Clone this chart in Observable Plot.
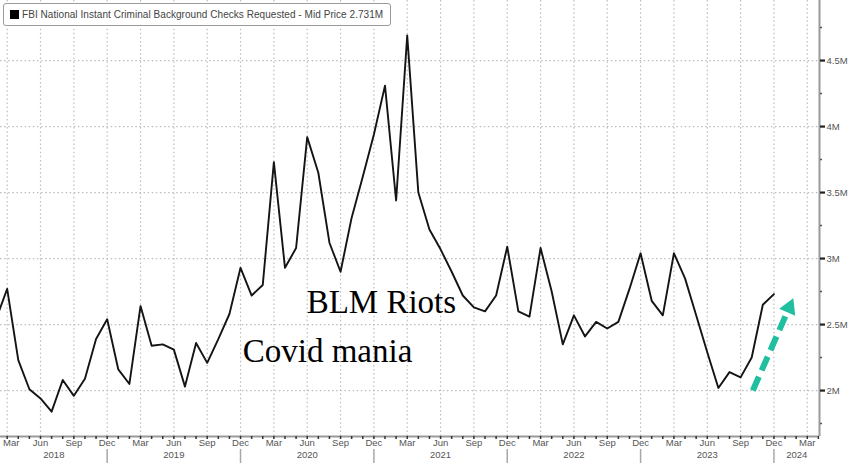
<!DOCTYPE html>
<html><head><meta charset="utf-8">
<script src="https://cdn.jsdelivr.net/npm/d3@7"></script>
<script src="https://cdn.jsdelivr.net/npm/@observablehq/plot@0.6"></script>
<style>
body{margin:0;background:#fff;}
#wrap{position:relative;width:848px;height:463px;overflow:hidden;}
#legend{position:absolute;left:3px;top:3px;width:386px;height:21px;border:1px solid #9a9a9a;border-radius:3px;background:#fff;font-family:"Liberation Sans",sans-serif;font-size:10px;letter-spacing:0.05px;color:#444;white-space:nowrap;}
#legend .sw{position:absolute;left:6px;top:6px;width:9px;height:9px;background:#000;}
#legend .tx{position:absolute;left:18px;top:4.5px;line-height:12px;}
</style></head><body>
<div id="wrap"><div id="chart"></div><div id="legend"><span class="sw"></span><span class="tx" id="legtext"></span></div></div>
<script>
const seriesName = "FBI National Instant Criminal Background Checks Requested - Mid Price 2.731M";
const months = [
 "2018-02","2018-03","2018-04","2018-05","2018-06","2018-07","2018-08","2018-09","2018-10","2018-11","2018-12",
 "2019-01","2019-02","2019-03","2019-04","2019-05","2019-06","2019-07","2019-08","2019-09","2019-10","2019-11","2019-12",
 "2020-01","2020-02","2020-03","2020-04","2020-05","2020-06","2020-07","2020-08","2020-09","2020-10","2020-11","2020-12",
 "2021-01","2021-02","2021-03","2021-04","2021-05","2021-06","2021-07","2021-08","2021-09","2021-10","2021-11","2021-12",
 "2022-01","2022-02","2022-03","2022-04","2022-05","2022-06","2022-07","2022-08","2022-09","2022-10","2022-11","2022-12",
 "2023-01","2023-02","2023-03","2023-04","2023-05","2023-06","2023-07","2023-08","2023-09","2023-10","2023-11","2023-12"
];
// millions of checks
const values = [
 2.54,2.77,2.23,2.01,1.94,1.84,2.08,1.96,2.09,2.39,2.54,
 2.16,2.05,2.64,2.34,2.35,2.31,2.03,2.36,2.21,2.39,2.58,2.93,
 2.72,2.80,3.73,2.93,3.08,3.92,3.65,3.12,2.90,3.31,3.62,3.94,
 4.31,3.44,4.69,3.50,3.22,3.07,2.90,2.72,2.63,2.60,2.72,3.09,
 2.60,2.56,3.08,2.75,2.35,2.57,2.41,2.52,2.47,2.52,2.77,3.04,
 2.68,2.57,3.04,2.85,2.57,2.29,2.02,2.14,2.10,2.25,2.65,2.731
];
const monthNames = ["Jan","Feb","Mar","Apr","May","Jun","Jul","Aug","Sep","Oct","Nov","Dec"];
const years = [2018,2019,2020,2021,2022,2023,2024];
const yTickValues = [2,2.5,3,3.5,4,4.5];
const yTickLabels = ["2M","2.5M","3M","3.5M","4M","4.5M"];
const yMinorValues = [1.75,2.25,2.75,3.25,3.75,4.25,4.75];
// annotations (month, value)
const notes = [
 {month:"2020-06", shift:-0.05, v:2.584, text:"BLM Riots"},
 {month:"2019-12", shift:0.2, v:2.22, text:"Covid mania"}
];
const arrowFrom = {month:"2023-10", shift:0.1, v:2.0};
const arrowTo = {month:"2024-01", shift:0.72, v:2.695};

document.getElementById("legtext").textContent = seriesName;

const idx = (s, shift=0) => { const [y,m] = s.split("-").map(Number); return (y-2018)*12 + (m-1) + shift; };
const data = months.map((m,i)=>({x: idx(m), v: values[i]}));
const X0 = 1.4, X1 = 75.1, Y0 = 1.652, Y1 = 4.955;

const monthTicks = d3.range(2, 76);
const quarterTicks = monthTicks.filter(i => i % 3 === 2);
const yearSeps = years.slice(0,-1).map(y => (y-2018)*12 + 11);
const yearLabels = years.map(y => {
  const a = Math.max(X0, (y-2018)*12 - 1), b = Math.min(X1, (y-2018)*12 + 11);
  return {x:(a+b)/2, t:String(y)};
});
const qLabels = quarterTicks.map(i => ({x:i, t:monthNames[i%12]}));

const a0 = {x: idx(arrowFrom.month, arrowFrom.shift), v: arrowFrom.v};
const a1 = {x: idx(arrowTo.month, arrowTo.shift), v: arrowTo.v};
const lerp = (t) => ({x: a0.x + (a1.x-a0.x)*t, v: a0.v + (a1.v-a0.v)*t});
const shaftEnd = lerp(0.86);
const headPos = lerp(0.905);

const font = "Liberation Sans, Arial, sans-serif";
const chart = Plot.plot({
  width: 848, height: 463,
  marginLeft: 0, marginRight: 29, marginTop: 0, marginBottom: 27,
  style: {fontFamily: font, background: "#fff", color: "#555"},
  x: {domain: [X0, X1], axis: null},
  y: {domain: [Y0, Y1], axis: null},
  marks: [
    Plot.ruleY(yTickValues, {stroke: "#bdbdbd", strokeWidth: 1.2, strokeDasharray: "1.5,2.6"}),
    Plot.ruleX(quarterTicks, {stroke: "#bdbdbd", strokeWidth: 1.2, strokeDasharray: "1.5,2.6"}),
    Plot.line(data, {x: "x", y: "v", stroke: "#141414", strokeWidth: 1.9, clip: true}),
    Plot.ruleY([Y0], {stroke: "#9a9a9a", strokeWidth: 2}),
    Plot.ruleX([X1], {stroke: "#9a9a9a", strokeWidth: 2}),
    Plot.axisX({ticks: monthTicks, tickSize: 3, tickFormat: () => "", stroke: "#333", strokeWidth: 1.5, label: null}),
    Plot.text(qLabels.slice(1), {x: "x", text: "t", frameAnchor: "bottom", dy: 9, fontSize: 9.5, fill: "#555"}),
    Plot.text(qLabels.slice(0,1), {x: "x", text: "t", frameAnchor: "bottom", dy: 9, dx: 4, fontSize: 9.5, fill: "#555"}),
    Plot.text(yearLabels, {x: "x", text: "t", frameAnchor: "bottom", dy: 21, fontSize: 9.5, fill: "#555"}),
    Plot.ruleX(yearSeps, {stroke: "#a8a8a8", strokeWidth: 1.5, insetTop: 449, insetBottom: -27}),
    Plot.axisY({anchor: "right", ticks: yTickValues, tickSize: 5, tickPadding: 2, tickFormat: (d) => yTickLabels[yTickValues.indexOf(d)], fontSize: 9.5, stroke: "#222", strokeWidth: 2.2, fill: "#555", label: null}),
    Plot.axisY({anchor: "right", ticks: yMinorValues, tickSize: 2, tickFormat: () => "", stroke: "#555", strokeWidth: 1.5, label: null}),
    Plot.text(notes, {x: (d) => idx(d.month, d.shift), y: "v", text: "text", textAnchor: "start", lineAnchor: "bottom", fontFamily: "Liberation Serif, Times New Roman, serif", fontSize: 33, fill: "#000"}),
    Plot.link([{a: a0, b: shaftEnd}], {x1: d => d.a.x, y1: d => d.a.v, x2: d => d.b.x, y2: d => d.b.v, stroke: "#1fbf9f", strokeWidth: 6, strokeDasharray: "15,7"}),
    Plot.dot([headPos], {x: "x", y: "v", symbol: "triangle", r: 6.5, fill: "#1fbf9f", stroke: "none", rotate: 23.6})
  ]
});
document.getElementById("chart").appendChild(chart);
</script>
</body></html>
